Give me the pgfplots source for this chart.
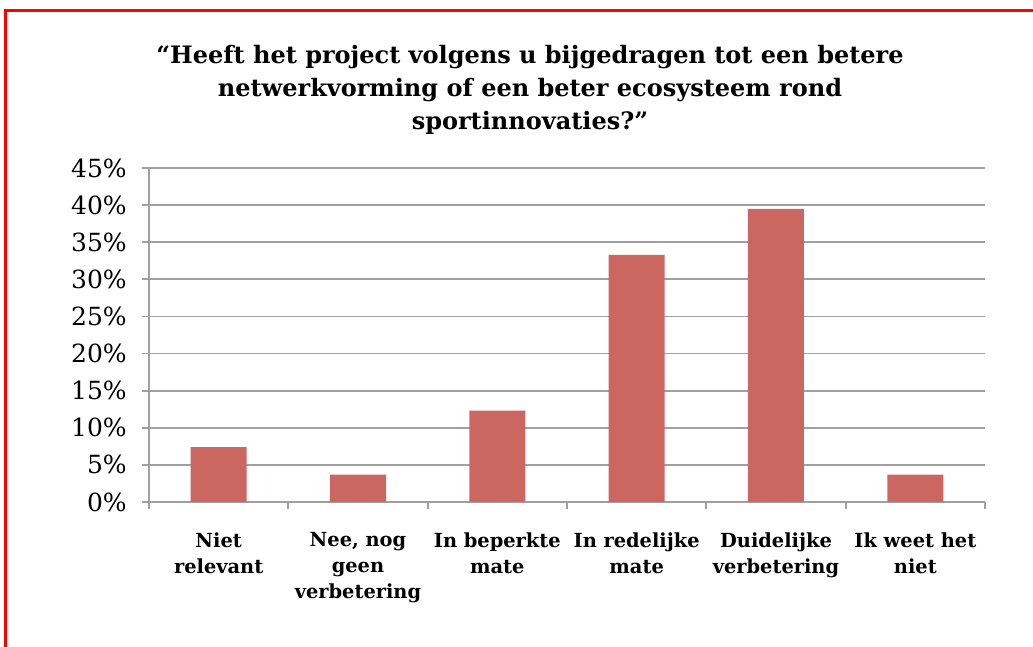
\documentclass[border=0pt]{standalone}
\usepackage{pgfplots}
\pgfplotsset{compat=1.18}
\usepackage{fontspec}
\setmainfont{DejaVu Serif}
\definecolor{staaf}{HTML}{CC6660}
\definecolor{raster}{HTML}{A0A0A0}
\definecolor{rand}{HTML}{FF0000}

\begin{document}
\begin{tikzpicture}
\useasboundingbox (0,0) rectangle (516.5pt,323.5pt);
\draw[rand,line width=1.4pt] (2.6pt,-2pt) -- (2.6pt,318.4pt) -- (520pt,318.4pt);
\node[align=center,font=\bfseries\fontsize{12}{16.5}\selectfont] at (265pt,278.5pt)
 {“Heeft het project volgens u bijgedragen tot een betere\\netwerkvorming of een beter ecosysteem rond\\sportinnovaties?”};
\begin{axis}[at={(74.5pt,72.5pt)},anchor=south west,scale only axis,width=418pt,height=167pt,
 ybar,bar width=28pt,xmin=-0.5,xmax=5.5,ymin=0,ymax=45,
 axis x line*=bottom,axis y line*=left,axis line style={raster,line width=0.9pt},
 ytick={0,5,...,45},yticklabel={\pgfmathprintnumber{\tick}\%},
 /pgf/number format/assume math mode=true,
 ymajorgrids,grid style={raster,line width=0.9pt},
 xtick={0,...,5},major x tick style={draw=none},
 minor xtick={-0.5,0.5,...,5.5},minor tick length=3.6pt,
 major tick length=3.6pt,tick align=outside,
 tick style={raster,line width=0.9pt},
 yticklabel style={font=\fontsize{12.5}{14}\selectfont,xshift=-4pt},
 xticklabels={{Niet\\relevant},{Nee, nog\\geen\\verbetering},{In beperkte\\mate},{In redelijke\\mate},{Duidelijke\\verbetering},{Ik weet het\\niet}},
 xticklabel style={align=center,anchor=north,yshift=-8pt,font=\bfseries\fontsize{9.7}{13}\selectfont},
 ]
 \addplot[fill=staaf,draw=none] coordinates {(0,7.4)(1,3.7)(2,12.3)(3,33.3)(4,39.5)(5,3.7)};
\end{axis}
\end{tikzpicture}
\end{document}
